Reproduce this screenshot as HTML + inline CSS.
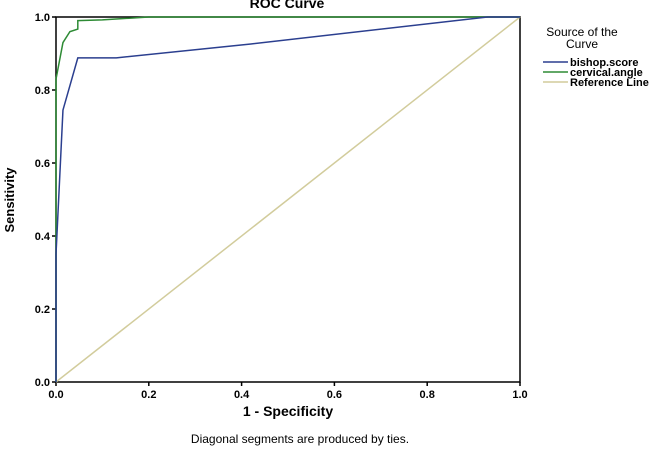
<!DOCTYPE html>
<html><head><meta charset="utf-8"><style>
body{margin:0;background:#fff;}
svg{display:block;font-family:"Liberation Sans",Arial,sans-serif;}
</style></head><body>
<svg id="chart" width="662" height="455">
<text x="287" y="8" text-anchor="middle" font-size="14" font-weight="bold">ROC Curve</text>
<g id="axes"></g>
<g id="series"></g>
<text transform="translate(14,200) rotate(-90)" text-anchor="middle" font-size="13" font-weight="bold">Sensitivity</text>
<text x="288" y="416" text-anchor="middle" font-size="14" font-weight="bold">1 - Specificity</text>
<text x="300" y="443" text-anchor="middle" font-size="12">Diagonal segments are produced by ties.</text>
<g>
<text x="582" y="36" text-anchor="middle" font-size="12"><tspan x="582">Source of the</tspan><tspan x="582" dy="12">Curve</tspan></text>
<line x1="543" y1="62" x2="568" y2="62" stroke="#2b3f8f" stroke-width="1.5"/>
<text x="570" y="66" font-size="11" font-weight="600">bishop.score</text>
<line x1="543" y1="72" x2="568" y2="72" stroke="#2e8b35" stroke-width="1.5"/>
<text x="570" y="76" font-size="11" font-weight="600">cervical.angle</text>
<line x1="543" y1="82" x2="568" y2="82" stroke="#d2cc9c" stroke-width="1.5"/>
<text x="570" y="86" font-size="11" font-weight="600">Reference Line</text>
</g>
</svg>
<script>
const ticks=[0,0.2,0.4,0.6,0.8,1.0];
const tickLabels=["0.0","0.2","0.4","0.6","0.8","1.0"];
const bishopX=[0,0,0.015,0.047,0.13,0.42,0.93,1];
const bishopY=[0,0.35,0.745,0.888,0.888,0.926,1,1];
const cervicalX=[0,0,0.015,0.03,0.047,0.047,0.1,0.2,1];
const cervicalY=[0,0.83,0.93,0.96,0.967,0.99,0.992,1,1];
const refX=[0,1];
const refY=[0,1];
const X0=56,X1=520,Y0=382,Y1=17;
const sx=v=>X0+v*(X1-X0), sy=v=>Y0-v*(Y0-Y1);
const NS="http://www.w3.org/2000/svg";
const axes=document.getElementById('axes'), ser=document.getElementById('series');
function mk(tag,attrs,parent){const e=document.createElementNS(NS,tag);for(const k in attrs)e.setAttribute(k,attrs[k]);parent.appendChild(e);return e;}
const frame=mk('rect',{x:X0,y:Y1,width:X1-X0,height:Y0-Y1,fill:'none',stroke:'#000','stroke-width':1.5},axes);


ticks.forEach((t,i)=>{
  const tx=mk('line',{x1:sx(t),x2:sx(t),y1:Y0,y2:Y0+4,stroke:'#000','stroke-width':1.5},axes);
  
  
  const lx=mk('text',{x:sx(t),y:Y0+16,'text-anchor':'middle','font-size':11,'font-weight':'bold'},axes);lx.textContent=tickLabels[i];
  
  
  const ty=mk('line',{x1:X0-4,x2:X0,y1:sy(t),y2:sy(t),stroke:'#000','stroke-width':1.5},axes);
  
  
  const ly=mk('text',{x:X0-6,y:sy(t)+4,'text-anchor':'end','font-size':11,'font-weight':'bold'},axes);ly.textContent=tickLabels[i];
  
  
});
function line(xs,ys,color,name){
  const p=mk('polyline',{points:xs.map((x,i)=>sx(x)+','+sy(ys[i])).join(' '),fill:'none',stroke:color,'stroke-width':1.5},ser);
  
  
}
line(refX,refY,'#d2cc9c','reference-line');
line(cervicalX,cervicalY,'#2e8b35','cervical-angle-curve');
line(bishopX,bishopY,'#2b3f8f','bishop-score-curve');
</script>
</body></html>
